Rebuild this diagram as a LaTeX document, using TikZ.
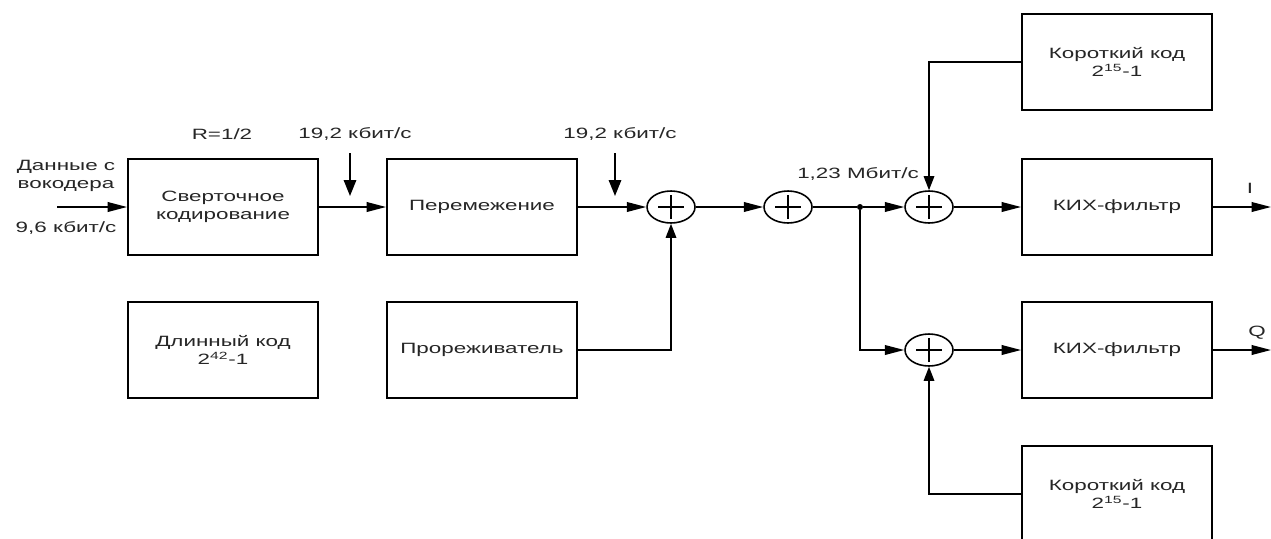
\documentclass[tikz,border=0pt]{standalone}
\usepackage{fontspec}
\setmainfont[FakeStretch=1.5]{Liberation Sans}
\usetikzlibrary{arrows.meta, shapes.geometric, positioning, calc}
\newcommand{\diagfont}{\fontsize{8.5}{10}\selectfont}

\begin{document}
\begin{tikzpicture}[
  x=0.02cm, y=-0.02cm,
  block/.style={
    draw, line width=1.1pt, minimum width=3.8cm, minimum height=1.92cm,
    font=\diagfont, align=center, inner sep=2pt, text=black!85
  },
  summer/.style={
    draw, ellipse, line width=0.9pt, minimum width=0.96cm, minimum height=0.64cm,
    inner sep=0pt,
    path picture={
      \draw[line width=0.9pt] (path picture bounding box.center) ++(-0.26cm,0) -- ++(0.52cm,0);
      \draw[line width=0.9pt] (path picture bounding box.center) ++(0,-0.24cm) -- ++(0,0.48cm);
    }
  },
  junction/.style={circle, fill, inner sep=0pt, minimum size=0.12cm},
  annot/.style={font=\diagfont, align=center, text=black!85, inner sep=1pt},
  conn/.style={line width=0.85pt},
  harrow/.style={conn, -{Triangle[length=11pt, width=5.5pt]}},
  varrow/.style={conn, -{Triangle[length=8pt, width=6pt]}},
  rate/.style={line width=1pt, -{Triangle[length=9pt, width=7pt]}}
]

\useasboundingbox (0,0) rectangle (1271,538);
\clip (0,0) rectangle (1271,538);

% ============ ROW 1: coder chain ============
\node[block] (conv) at (223,207) {Сверточное\\кодирование};
\node[block] (perem) at (482,207) {Перемежение};

\node[summer] (sum1) at (671,207) {};
\node[summer] (sum2) at (788,207) {};
\node[junction] (split) at (860,207) {};
\node[summer] (sum3) at (929,207) {};

\node[block] (firI) at (1117,207) {КИХ-фильтр};
\node[block] (codeI) at (1117,62) {Короткий код\\2\textsuperscript{15}-1};

% input and output ends
\coordinate (datain) at (57,207);
\coordinate (outI) at (1271,207);

\node[annot] (src) at (66,176) {Данные с\\вокодера};
\node[annot] (srcrate) at (66,228) {9,6 кбит/с};
\node[annot] (coderate) at (222,134) {R=1/2};
\node[annot] (rateA) at (355,134) {19,2 кбит/с};
\node[annot] (rateB) at (620,134) {19,2 кбит/с};
\node[annot] (chiprate) at (858,174) {1,23 Мбит/с};
\node[annot] (labI) at (1250,188) {I};

% rate markers
\coordinate (rateAtop) at (350,153);
\coordinate (rateAbot) at (350,196);
\coordinate (rateBtop) at (615,153);
\coordinate (rateBbot) at (615,196);
\draw[rate] (rateAtop) -- (rateAbot);
\draw[rate] (rateBtop) -- (rateBbot);

% Row 1 connections
\draw[harrow] (datain) -- (conv.west);
\draw[harrow] (conv.east) -- (perem.west);
\draw[harrow] (perem.east) -- (sum1.west);
\draw[harrow] (sum1.east) -- (sum2.west);
\draw[conn] (sum2.east) -- (split);
\draw[harrow] (split) -- (sum3.west);
\draw[harrow] (sum3.east) -- (firI.west);
\draw[harrow] (firI.east) -- (outI);
\draw[varrow] (codeI.west) -| (sum3.north);

% ============ ROW 2: codes and Q branch ============
\node[block] (longcode) at (223,350) {Длинный код\\2\textsuperscript{42}-1};
\node[block] (decim) at (482,350) {Прореживатель};

\node[summer] (sum4) at (929,350) {};
\node[block] (firQ) at (1117,350) {КИХ-фильтр};
\node[block] (codeQ) at (1117,494) {Короткий код\\2\textsuperscript{15}-1};

\coordinate (outQ) at (1271,350);
\node[annot] (labQ) at (1257,333) {Q};

% Row 2 connections
\draw[varrow] (decim.east) -| (sum1.south);
\draw[harrow] (split) |- (sum4.west);
\draw[harrow] (sum4.east) -- (firQ.west);
\draw[harrow] (firQ.east) -- (outQ);
\draw[varrow] (codeQ.west) -| (sum4.south);

\end{tikzpicture}
\end{document}
